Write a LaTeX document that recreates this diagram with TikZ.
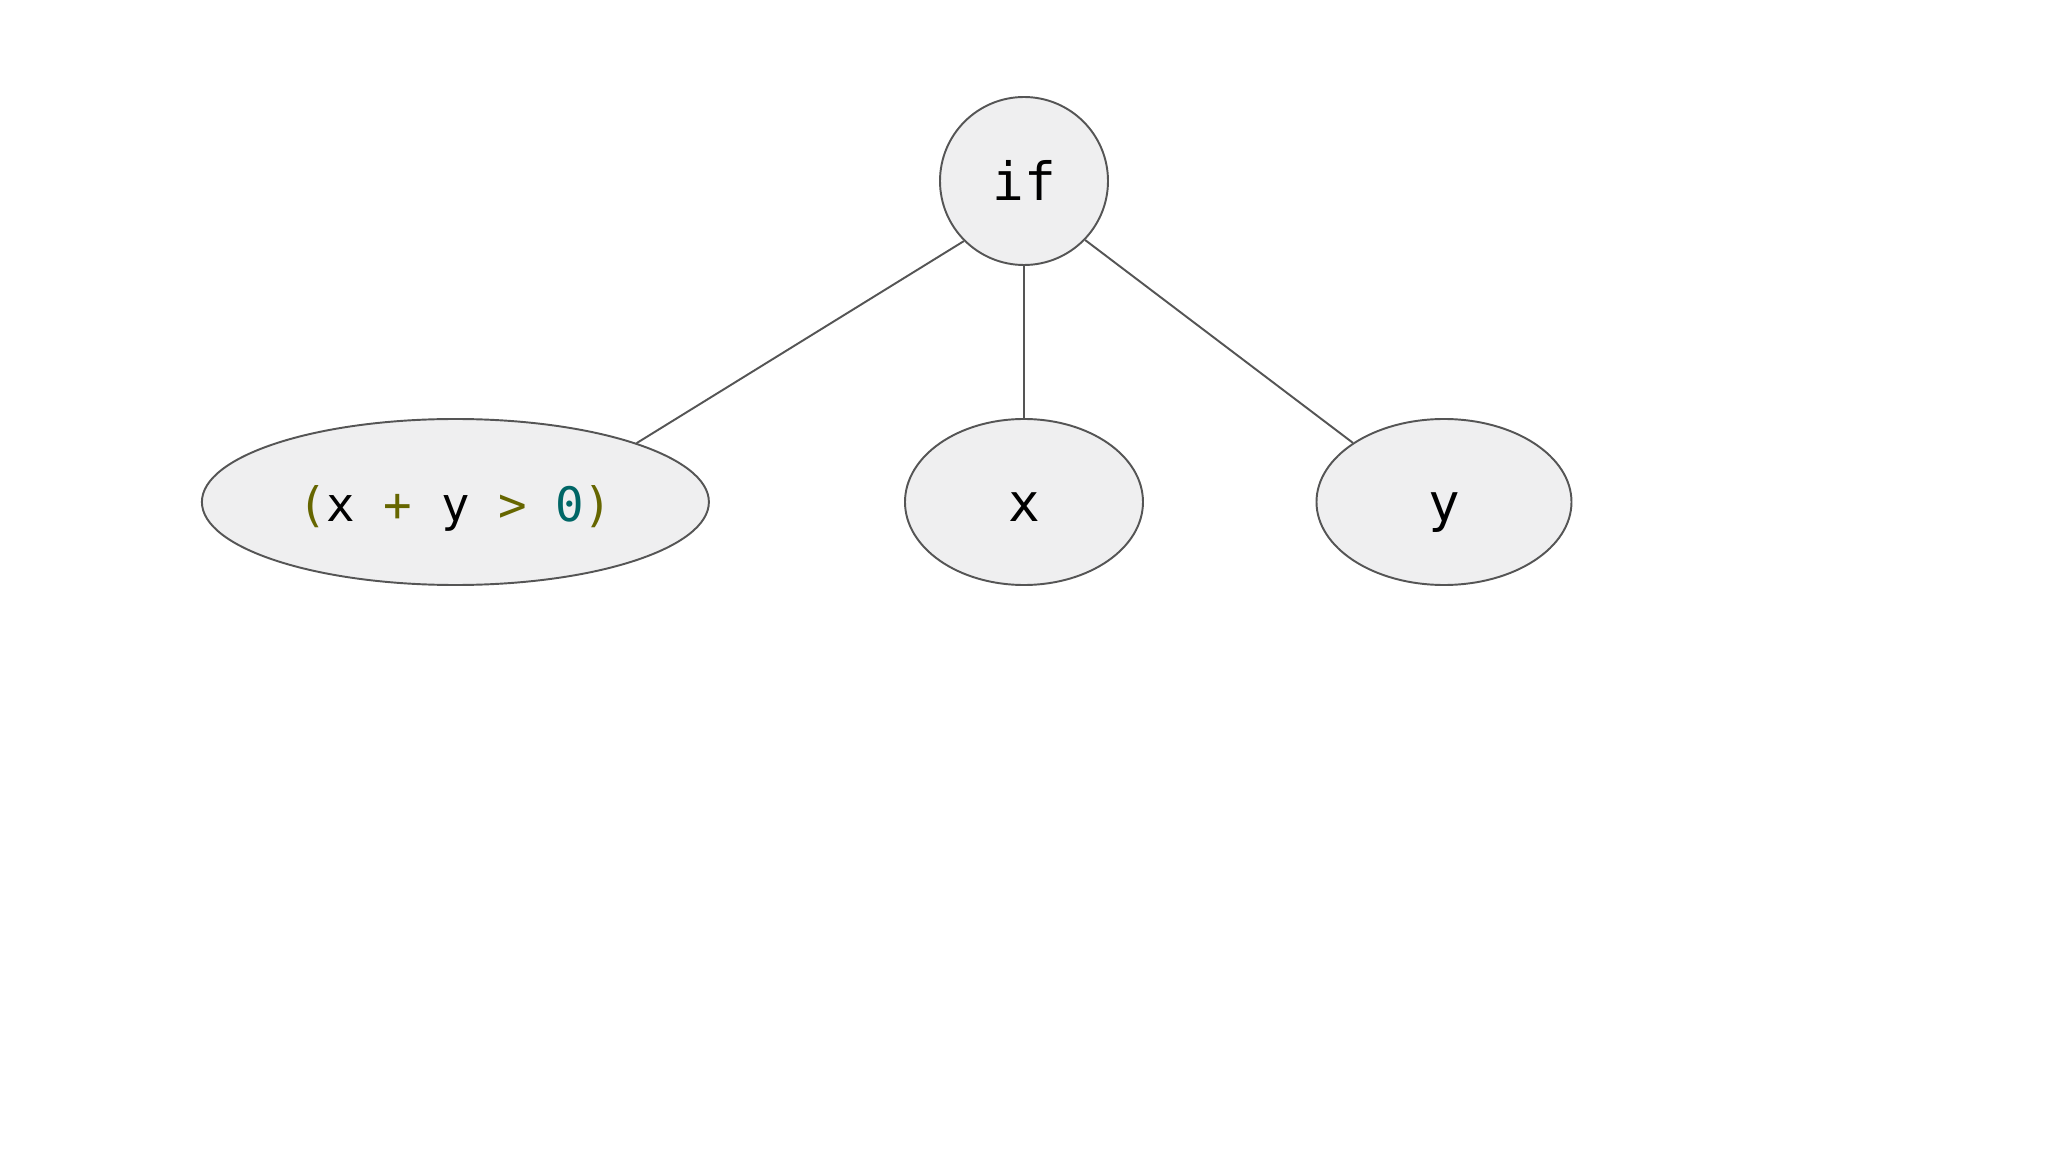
\documentclass[tikz,border=0pt]{standalone}
\usepackage{fontspec}
\setmonofont{DejaVu Sans Mono}
\usepackage{tikz}
\usetikzlibrary{shapes.geometric}
\definecolor{olivetok}{RGB}{102,102,0}
\definecolor{tealtok}{RGB}{0,102,102}
\definecolor{nodefill}{RGB}{239,239,240}
\definecolor{nodeline}{RGB}{85,85,85}

\begin{document}
\begin{tikzpicture}[line width=0.55pt,
  ast/.style={draw=nodeline,fill=nodefill,inner sep=0pt,
    text height=11.2pt,text depth=0pt,
    font=\ttfamily\fontsize{15}{18}\selectfont},
  astleaf/.style={ast,ellipse,minimum height=1.66cm}]

  \useasboundingbox (0,0) rectangle (20.48,-11.52);

  \node[ast,circle,minimum size=1.68cm] (if) at (10.24,-1.81) {if};
  \node[astleaf,minimum width=5.07cm,font=\ttfamily\fontsize{13.5}{16}\selectfont] (cond) at (4.554,-5.02)
    {\textcolor{olivetok}{(}x \textcolor{olivetok}{+} y \textcolor{olivetok}{>} \textcolor{tealtok}{0}\textcolor{olivetok}{)}};
  \node[astleaf,minimum width=2.38cm] (x) at (10.24,-5.02) {x};
  \node[astleaf,minimum width=2.55cm] (y) at (14.44,-5.02) {y};

  \path[draw=nodeline] (if.225) edge (cond.18);
  \path[draw=nodeline] (if.south) edge (x.north);
  \path[draw=nodeline] (if.316) edge (y.147);

\end{tikzpicture}
\end{document}
